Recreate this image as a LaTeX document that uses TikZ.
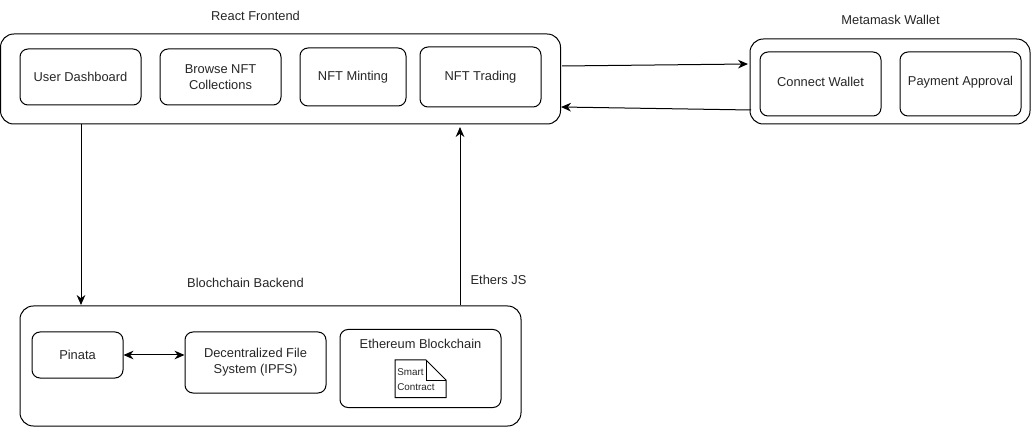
\documentclass[tikz,border=0pt]{standalone}
\usepackage{fontspec}
\setmainfont{Liberation Sans}
\usetikzlibrary{arrows.meta}
\tikzset{
  x=0.75pt,y=-0.75pt,
  txt/.style={font=\fontsize{9.65}{12}\selectfont,text=black!85,align=center,inner sep=0pt},
  outerbox/.style={draw=black,line width=0.75pt,rounded corners=10pt,inner sep=0pt},
  innerbox/.style={draw=black,line width=0.75pt,rounded corners=6pt,inner sep=0pt,align=center,font=\fontsize{9.65}{12}\selectfont,text=black!85},
  conn/.style={draw=black,line width=0.75pt,-{Stealth[length=7.5pt,width=6.5pt]}},
  biconn/.style={draw=black,line width=0.75pt,{Stealth[length=7.5pt,width=6.5pt]}-{Stealth[length=7.5pt,width=6.5pt]}}
}
\newcommand{\pxbox}[7]{\node[#1,minimum width=#6*0.75pt,minimum height=#7*0.75pt] (#2) at (#3,#4) {#5};}
\begin{document}
\begin{tikzpicture}
\useasboundingbox (0,0) rectangle (1031,427);
% outer containers
\pxbox{outerbox}{react}{280.5}{79}{}{560}{90}
\pxbox{outerbox}{meta}{890}{81.5}{}{280}{85}
\pxbox{outerbox}{back}{270.5}{366}{}{501}{120}
% inner boxes
\pxbox{innerbox}{dash}{80.5}{77}{User Dashboard}{121}{56}
\pxbox{innerbox}{browse}{220.5}{77}{Browse NFT\\Collections}{121}{56}
\pxbox{innerbox}{mint}{353}{77}{NFT Minting}{106}{58}
\pxbox{innerbox}{trade}{480.5}{77}{NFT Trading}{121}{60}
\pxbox{innerbox}{connect}{820.5}{84}{}{121}{64}
\pxbox{innerbox}{pay}{960.5}{84}{}{121}{64}
\pxbox{innerbox}{pinata}{77.5}{355}{Pinata}{91}{46}
\pxbox{innerbox}{ipfs}{255.5}{362.5}{Decentralized File\\System (IPFS)}{141}{61}
\pxbox{innerbox}{eth}{420.5}{368.5}{}{161}{78}
% labels
\node[txt] (lconnect) at (820.5,82) {Connect Wallet};
\node[txt] (lpay) at (960.5,82) {Payment Approval};
\node[txt] (lreact) at (255.5,15.5) {React Frontend};
\node[txt] (lmeta) at (890.5,19.5) {Metamask Wallet};
\node[txt] (lback) at (245.5,282.5) {Blochchain Backend};
\node[txt] (lethers) at (498.5,279.5) {Ethers JS};
\node[txt] (leth) at (420.5,344) {Ethereum Blockchain};
% note shape
\draw[line width=0.75pt,line join=miter] (395,360) -- (426,360) -- (446,380) -- (446,397.5) -- (395,397.5) -- cycle;
\draw[line width=0.75pt] (426,360) -- (426,380) -- (446,380);
\node[anchor=west,font=\fontsize{7.4}{8}\selectfont,text=black!85,inner sep=0pt] (smart) at (397,372) {Smart};
\node[anchor=west,font=\fontsize{7.4}{8}\selectfont,text=black!85,inner sep=0pt] (contract) at (397,387.5) {Contract};
% connector ends
\coordinate (a1) at (562,66);
\coordinate (a2) at (748,64);
\coordinate (b1) at (751,110);
\coordinate (b2) at (561,107);
\coordinate (c1) at (81,124);
\coordinate (c2) at (81,305);
\coordinate (d1) at (460,305);
\coordinate (d2) at (460,127);
\draw[conn] (a1) -- (a2);
\draw[conn] (b1) -- (b2);
\draw[conn] (c1) -- (c2);
\draw[conn] (d1) -- (d2);
\draw[biconn] (pinata.east) -- (pinata.east -| ipfs.west);
\end{tikzpicture}
\end{document}
